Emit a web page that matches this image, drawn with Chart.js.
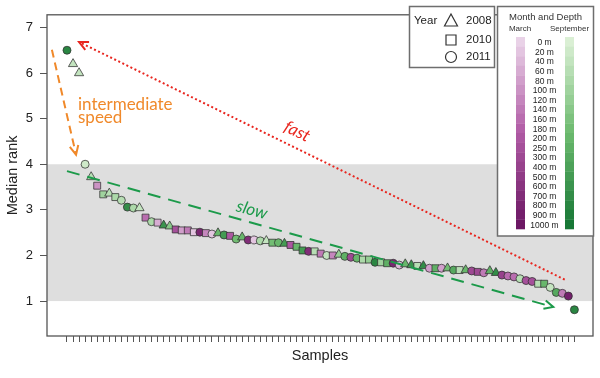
<!DOCTYPE html>
<html>
<head>
<meta charset="utf-8">
<script src="https://cdn.jsdelivr.net/npm/chart.js@4.4.1/dist/chart.umd.min.js"></script>
<style>
  html, body { margin: 0; padding: 0; background: #fff; }
</style>
</head>
<body>
<canvas id="chart1" width="600" height="378"></canvas>
<script>
//----------------- data ---------------------------------------------

const medianRank = [6.50, 6.20, 6.00, 4.00, 3.72, 3.53, 3.34, 3.36, 3.28, 3.21,
    3.06, 3.04, 3.04, 2.83, 2.74, 2.72, 2.66, 2.64, 2.57, 2.55,
    2.55, 2.51, 2.51, 2.49, 2.47, 2.49, 2.45, 2.43, 2.36, 2.40,
    2.34, 2.34, 2.32, 2.32, 2.28, 2.28, 2.26, 2.23, 2.19, 2.11,
    2.09, 2.09, 2.04, 2.00, 2.00, 2.02, 1.98, 1.96, 1.94, 1.91,
    1.91, 1.85, 1.85, 1.83, 1.83, 1.79, 1.81, 1.79, 1.77, 1.77,
    1.72, 1.72, 1.72, 1.72, 1.68, 1.68, 1.68, 1.66, 1.64, 1.62,
    1.66, 1.62, 1.57, 1.55, 1.53, 1.49, 1.45, 1.43, 1.38, 1.38,
    1.30, 1.19, 1.17, 1.11, 0.81];

const sampleYear = [2011, 2008, 2008, 2011, 2008, 2010, 2010, 2008, 2010, 2011,
    2011, 2011, 2008, 2010, 2011, 2010, 2008, 2008, 2010, 2010,
    2010, 2010, 2011, 2010, 2011, 2008, 2011, 2010, 2011, 2008,
    2011, 2011, 2011, 2008, 2010, 2011, 2008, 2010, 2010, 2010,
    2011, 2010, 2010, 2011, 2010, 2008, 2011, 2011, 2011, 2010,
    2010, 2011, 2010, 2010, 2011, 2011, 2008, 2008, 2010, 2008,
    2011, 2010, 2011, 2008, 2011, 2010, 2008, 2011, 2010, 2011,
    2008, 2008, 2011, 2011, 2011, 2011, 2011, 2011, 2010, 2010,
    2011, 2011, 2011, 2011, 2011];

const sampleMonth = ['Sep', 'Sep', 'Sep', 'Sep', 'Sep', 'Mar', 'Sep', 'Sep', 'Sep', 'Sep',
    'Sep', 'Sep', 'Sep', 'Mar', 'Sep', 'Mar', 'Sep', 'Sep', 'Mar', 'Mar',
    'Mar', 'Mar', 'Mar', 'Mar', 'Mar', 'Sep', 'Sep', 'Mar', 'Sep', 'Sep',
    'Mar', 'Mar', 'Sep', 'Sep', 'Sep', 'Sep', 'Sep', 'Mar', 'Sep', 'Sep',
    'Mar', 'Sep', 'Mar', 'Sep', 'Mar', 'Sep', 'Sep', 'Mar', 'Sep', 'Sep',
    'Sep', 'Sep', 'Sep', 'Sep', 'Mar', 'Mar', 'Sep', 'Sep', 'Sep', 'Sep',
    'Mar', 'Sep', 'Mar', 'Sep', 'Sep', 'Sep', 'Sep', 'Mar', 'Mar', 'Mar',
    'Sep', 'Sep', 'Mar', 'Mar', 'Mar', 'Sep', 'Mar', 'Mar', 'Sep', 'Sep',
    'Sep', 'Sep', 'Mar', 'Mar', 'Sep'];

const sampleDepth = [800, 40, 40, 20, 60, 100, 100, 60, 80, 60,
    700, 80, 40, 160, 80, 60, 600, 140, 250, 80,
    140, 20, 800, 120, 20, 200, 500, 200, 180, 200,
    700, 20, 80, 40, 180, 200, 500, 200, 200, 500,
    700, 60, 140, 40, 120, 120, 250, 300, 200, 80,
    120, 800, 100, 250, 800, 40, 200, 600, 60, 700,
    80, 250, 80, 180, 300, 60, 200, 300, 300, 140,
    250, 700, 400, 160, 160, 60, 250, 250, 60, 200,
    40, 300, 140, 900, 800];

const depthLevels = [0, 20, 40, 60, 80, 100, 120, 140, 160, 180, 200, 250, 300, 400, 500, 600, 700, 800, 900, 1000];
const yearLabels = [2008, 2010, 2011];
const rankTicks = [1, 2, 3, 4, 5, 6, 7];
const bandRange = [1, 4];

//----------------- styles -------------------------

const FONT = "'Liberation Sans', Arial, sans-serif";
const NOTE_FONT = "Lato, 'Open Sans', sans-serif";

const purpleStops = [[233, 210, 231], [176, 90, 164], [108, 24, 100]];
const greenStops = [[218, 239, 212], [108, 186, 110], [24, 120, 54]];

const shapeByYear = { 2008: 'triangle', 2010: 'rect', 2011: 'circle' };
const radiusByYear = { 2008: 5.3, 2010: 4.9, 2011: 4.0 };

function ramp(stops, t) {
    let a, b, u;
    if (t < 0.5) { a = stops[0]; b = stops[1]; u = t / 0.5; }
    else { a = stops[1]; b = stops[2]; u = (t - 0.5) / 0.5; }
    const c = a.map((v, k) => Math.round(v + (b[k] - v) * u));
    return `rgb(${c[0]}, ${c[1]}, ${c[2]})`;
}

function depthColor(month, depth) {
    const t = depthLevels.indexOf(depth) / (depthLevels.length - 1);
    return ramp(month === 'Mar' ? purpleStops : greenStops, t);
}

const sampleNumbers = medianRank.map((v, i) => i + 1);
const points = medianRank.map((v, i) => ({ x: i + 1, y: v }));

//----------------- plugins -------------------------

// grey band between rank 1 and 4
const bandPlugin = {
    id: 'band',
    beforeDatasetsDraw(chart) {
        const { ctx, chartArea: a, scales: { y } } = chart;
        const top = y.getPixelForValue(bandRange[1]);
        const bot = y.getPixelForValue(bandRange[0]);
        ctx.save();
        ctx.fillStyle = '#dedede';
        ctx.fillRect(a.left, top, a.right - a.left, bot - top);
        ctx.restore();
    }
};

function drawArrow(ctx, x1, y1, x2, y2, color, dash) {
    ctx.save();
    ctx.strokeStyle = color;
    ctx.lineWidth = 2;
    ctx.setLineDash(dash);
    ctx.beginPath();
    ctx.moveTo(x1, y1);
    ctx.lineTo(x2, y2);
    ctx.stroke();
    const ang = Math.atan2(y2 - y1, x2 - x1);
    const len = 10, spread = Math.PI / 7;
    ctx.setLineDash([]);
    ctx.beginPath();
    ctx.moveTo(x2 - len * Math.cos(ang - spread), y2 - len * Math.sin(ang - spread));
    ctx.lineTo(x2, y2);
    ctx.lineTo(x2 - len * Math.cos(ang + spread), y2 - len * Math.sin(ang + spread));
    ctx.stroke();
    ctx.restore();
}

// arrows + notes, placed in data units
const notesPlugin = {
    id: 'notes',
    afterDatasetsDraw(chart) {
        const { ctx, scales: { x, y } } = chart;
        const px = v => x.getPixelForValue(v);
        const py = v => y.getPixelForValue(v);

        const arrows = [
            { from: [-1.5, 6.51], to: [2.5, 4.21], color: '#f0892a', dash: [8, 5] },
            { from: [83.4, 1.47], to: [3.0, 6.68], color: '#e8261f', dash: [2, 2.5] },
            { from: [1.0, 3.85], to: [81.5, 0.87], color: '#1c9a4a', dash: [13, 8] }
        ];
        arrows.forEach(a => drawArrow(ctx, px(a.from[0]), py(a.from[1]), px(a.to[0]), py(a.to[1]), a.color, a.dash));

        ctx.save();
        ctx.fillStyle = '#f0892a';
        ctx.font = `17px ${NOTE_FONT}`;
        ctx.textAlign = 'left';
        ctx.textBaseline = 'alphabetic';
        ctx.fillText('intermediate', px(2.82), py(5.19));
        ctx.fillText('speed', px(2.82), py(4.9));

        const rotText = (txt, cx, cy, arrow, color) => {
            const ang = Math.atan2(py(arrow.to[1]) - py(arrow.from[1]), px(arrow.to[0]) - px(arrow.from[0]));
            let a = ang;
            if (a > Math.PI / 2) a -= Math.PI;
            if (a < -Math.PI / 2) a += Math.PI;
            ctx.save();
            ctx.translate(px(cx), py(cy));
            ctx.rotate(a);
            ctx.fillStyle = color;
            ctx.font = `italic 17px ${NOTE_FONT}`;
            ctx.textAlign = 'center';
            ctx.textBaseline = 'middle';
            ctx.fillText(txt, 0, 0);
            ctx.restore();
        };
        rotText('fast', 39.1, 4.72, arrows[1], '#e8261f');
        rotText('slow', 31.6, 3.0, arrows[2], '#1c9a4a');
        ctx.restore();
    }
};

// box around plot + the two legends
const framePlugin = {
    id: 'frame',
    afterDraw(chart) {
        const { ctx, chartArea: a } = chart;
        ctx.save();
        ctx.strokeStyle = '#555';
        ctx.lineWidth = 1.3;
        ctx.strokeRect(a.left, a.top, a.right - a.left, a.bottom - a.top);

        // year legend
        ctx.fillStyle = '#fff';
        ctx.fillRect(409, 6, 85, 61);
        ctx.strokeStyle = '#6e6e6e';
        ctx.lineWidth = 1.5;
        ctx.strokeRect(409.5, 6.5, 85, 61);
        ctx.fillStyle = '#222';
        ctx.font = `11.5px ${FONT}`;
        ctx.textBaseline = 'middle';
        ctx.textAlign = 'left';
        ctx.fillText('Year', 414, 21);
        const rows = [21, 40, 57];
        ctx.strokeStyle = '#333';
        ctx.lineWidth = 1.2;
        yearLabels.forEach((yr, k) => {
            const cy = rows[k], cx = 451;
            ctx.beginPath();
            if (shapeByYear[yr] === 'triangle') {
                ctx.moveTo(cx, cy - 7);
                ctx.lineTo(cx + 6.5, cy + 5);
                ctx.lineTo(cx - 6.5, cy + 5);
                ctx.closePath();
            } else if (shapeByYear[yr] === 'rect') {
                ctx.rect(cx - 5, cy - 5, 10, 10);
            } else {
                ctx.arc(cx, cy, 5.5, 0, Math.PI * 2);
            }
            ctx.stroke();
            ctx.fillText(String(yr), 466, cy);
        });

        // month / depth colour bar
        ctx.fillStyle = '#fff';
        ctx.fillRect(497, 6, 96, 230);
        ctx.strokeStyle = '#6e6e6e';
        ctx.lineWidth = 1.5;
        ctx.strokeRect(497.5, 6.5, 96, 229.5);
        ctx.fillStyle = '#333';
        ctx.textAlign = 'center';
        ctx.font = `9.5px ${FONT}`;
        ctx.fillText('Month and Depth', 545.5, 17);
        ctx.font = `8px ${FONT}`;
        ctx.fillText('March', 520, 29);
        ctx.fillText('September', 569.5, 29);
        ctx.font = `8.5px ${FONT}`;
        const cellTop = 37, cellH = 9.6;
        depthLevels.forEach((d, k) => {
            const yTop = cellTop + k * cellH;
            ctx.fillStyle = depthColor('Mar', d);
            ctx.fillRect(516, yTop, 9, cellH + 0.3);
            ctx.fillStyle = depthColor('Sep', d);
            ctx.fillRect(565, yTop, 9, cellH + 0.3);
            ctx.fillStyle = '#222';
            ctx.fillText(`${d} m`, 544.5, yTop + cellH / 2 + 1);
        });
        ctx.restore();
    }
};

//----------------- chart -------------------------

const config = {
    type: 'scatter',
    data: {
        datasets: [{
            label: 'Median rank',
            data: points,
            pointStyle: c => shapeByYear[sampleYear[c.dataIndex]],
            pointRadius: c => radiusByYear[sampleYear[c.dataIndex]],
            backgroundColor: c => depthColor(sampleMonth[c.dataIndex], sampleDepth[c.dataIndex]),
            borderColor: 'rgba(50, 50, 50, 0.85)',
            borderWidth: 0.9
        }]
    },
    options: {
        responsive: false,
        animation: false,
        layout: { padding: { top: 5, right: 7, left: 0, bottom: 0 } },
        plugins: {
            legend: { display: false },
            tooltip: { enabled: false }
        },
        scales: {
            x: {
                type: 'linear',
                min: -2.31,
                max: 88.08,
                afterBuildTicks: s => { s.ticks = sampleNumbers.map(v => ({ value: v })); },
                afterFit: s => { s.height = 42; },
                ticks: { autoSkip: false, maxRotation: 0, callback: () => '' },
                grid: { drawOnChartArea: false, drawTicks: true, tickLength: 6, color: '#555', lineWidth: 1 },
                border: { display: false },
                title: {
                    display: true, text: 'Samples', color: '#222',
                    font: { family: FONT, size: 14.5 },
                    padding: { top: 4, bottom: 13 }
                }
            },
            y: {
                min: 0.234,
                max: 7.277,
                afterBuildTicks: s => { s.ticks = rankTicks.map(v => ({ value: v })); },
                afterFit: s => { s.width = 47; },
                ticks: { color: '#222', font: { family: FONT, size: 13 }, padding: 7 },
                grid: { drawOnChartArea: false, drawTicks: true, tickLength: 7, color: '#555', lineWidth: 1 },
                border: { display: false },
                title: {
                    display: true, text: 'Median rank', color: '#222',
                    font: { family: FONT, size: 14.5 },
                    padding: { top: 4, bottom: 0 }
                }
            }
        }
    },
    plugins: [bandPlugin, notesPlugin, framePlugin]
};

const myChart = new Chart(document.getElementById('chart1').getContext('2d'), config);
</script>
</body>
</html>
